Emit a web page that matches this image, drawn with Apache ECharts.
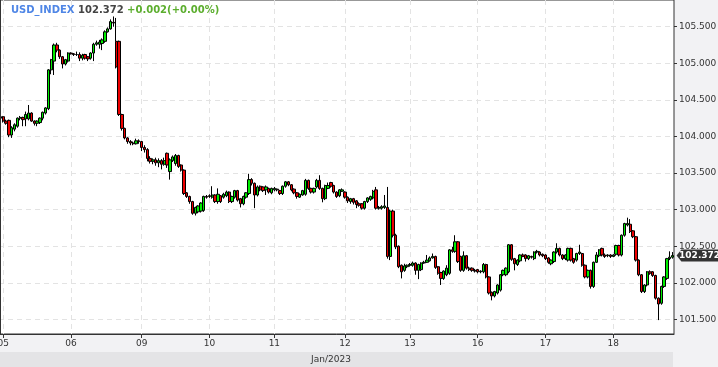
<!DOCTYPE html>
<html><head><meta charset="utf-8">
<script src="https://cdn.jsdelivr.net/npm/echarts@6/dist/echarts.min.js"></script>
<style>html,body{margin:0;padding:0;background:#fff}#c{width:718px;height:367px}</style>
</head><body><div id="c"></div>
<script>
const symbolName = 'USD_INDEX';
const lastPrice = 102.372;
const changeText = '+0.002(+0.00%)';
const monthLabel = 'Jan/2023';
const dayLabels = ['05','06','09','10','11','12','13','16','17','18'];
const dayStartIndex = [1,25,50,74,97,122,145,169,193,217];
const yTickValues = [101.5,102.0,102.5,103.0,103.5,104.0,104.5,105.0,105.5];
// [open, close, low, high]
const candles = [
[104.27,104.25,104.23,104.29],[104.27,104.21,104.19,104.28],[104.21,104.18,104.16,104.23],[104.22,104.02,103.99,104.23],
[104.02,104.12,103.98,104.14],[104.10,104.16,104.07,104.18],[104.14,104.25,104.12,104.26],[104.25,104.26,104.22,104.28],
[104.26,104.23,104.14,104.27],[104.24,104.30,104.14,104.34],[104.24,104.32,104.22,104.43],[104.32,104.21,104.20,104.33],
[104.21,104.18,104.15,104.22],[104.18,104.21,104.14,104.22],[104.19,104.25,104.17,104.26],[104.25,104.33,104.22,104.34],
[104.32,104.39,104.30,104.40],[104.38,104.91,104.36,104.92],[104.91,105.05,104.85,105.06],[105.03,105.25,104.84,105.27],
[105.25,105.18,105.15,105.28],[105.18,105.09,105.06,105.19],[105.09,104.99,104.93,105.10],[104.99,105.05,104.97,105.06],
[105.03,105.14,105.01,105.15],[105.14,105.13,105.12,105.15],[105.13,105.12,105.10,105.14],[105.12,105.12,105.10,105.16],
[105.12,105.07,105.03,105.15],[105.07,105.11,105.04,105.13],[105.12,105.07,105.05,105.13],[105.09,105.06,105.03,105.10],
[105.07,105.14,105.05,105.15],[105.14,105.26,105.03,105.28],[105.26,105.28,105.24,105.31],[105.26,105.29,105.20,105.32],
[105.27,105.32,105.18,105.34],[105.30,105.43,105.28,105.45],[105.43,105.47,105.42,105.49],[105.47,105.57,105.46,105.60],
[105.56,105.55,105.50,105.64],[105.30,104.95,104.93,105.62],[105.30,104.30,104.28,105.31],[104.30,104.11,104.08,104.31],
[104.11,103.98,103.96,104.12],[103.98,103.93,103.90,103.99],[103.93,103.91,103.88,103.95],[103.91,103.90,103.88,103.93],
[103.90,103.94,103.89,103.97],[103.94,103.93,103.90,103.96],[103.93,103.85,103.80,103.94],[103.85,103.82,103.78,103.88],
[103.82,103.70,103.66,103.84],[103.70,103.66,103.63,103.73],[103.66,103.68,103.62,103.70],[103.68,103.64,103.60,103.71],
[103.64,103.67,103.58,103.70],[103.67,103.62,103.55,103.69],[103.62,103.67,103.60,103.71],
[103.77,103.61,103.57,103.78],[103.52,103.68,103.41,103.70],[103.67,103.72,103.65,103.74],[103.63,103.74,103.60,103.76],
[103.74,103.59,103.57,103.75],[103.61,103.54,103.52,103.62],[103.54,103.22,103.20,103.55],[103.23,103.18,103.16,103.24],
[103.18,103.11,103.08,103.19],[103.11,102.95,102.93,103.12],[102.95,103.03,102.92,103.04],[102.97,103.05,102.95,103.06],
[102.98,103.09,102.96,103.10],[102.99,103.18,102.97,103.19],[103.18,103.17,103.15,103.20],[103.19,103.18,103.16,103.21],
[103.17,103.20,103.15,103.32],[103.20,103.11,103.09,103.21],[103.11,103.21,103.08,103.29],[103.19,103.11,103.09,103.20],
[103.17,103.21,103.15,103.23],[103.19,103.24,103.17,103.26],[103.24,103.11,103.09,103.25],[103.11,103.18,103.09,103.19],
[103.17,103.26,103.15,103.27],[103.26,103.13,103.11,103.27],[103.15,103.08,103.03,103.16],[103.08,103.18,103.06,103.19],
[103.17,103.23,103.15,103.24],[103.22,103.41,103.20,103.49],[103.41,103.36,103.33,103.43],[103.36,103.20,103.02,103.37],
[103.20,103.31,103.18,103.33],[103.32,103.27,103.25,103.33],[103.31,103.26,103.24,103.32],[103.27,103.31,103.20,103.33],
[103.29,103.24,103.22,103.30],[103.23,103.29,103.21,103.30],[103.27,103.29,103.25,103.31],[103.28,103.27,103.25,103.29],
[103.26,103.22,103.20,103.27],[103.22,103.32,103.20,103.33],[103.32,103.38,103.30,103.39],[103.38,103.34,103.32,103.39],
[103.34,103.27,103.25,103.35],[103.28,103.23,103.21,103.29],[103.23,103.18,103.15,103.24],[103.17,103.21,103.16,103.22],
[103.20,103.26,103.19,103.27],[103.21,103.40,103.19,103.42],[103.40,103.29,103.27,103.41],[103.29,103.24,103.22,103.30],
[103.24,103.29,103.22,103.30],[103.31,103.40,103.29,103.42],[103.40,103.29,103.27,103.47],[103.29,103.15,103.10,103.30],
[103.15,103.33,103.13,103.34],[103.29,103.33,103.28,103.37],[103.37,103.32,103.30,103.38],[103.33,103.24,103.22,103.34],
[103.24,103.18,103.16,103.25],
[103.19,103.27,103.17,103.28],[103.25,103.27,103.24,103.29],[103.24,103.17,103.15,103.25],[103.17,103.12,103.09,103.18],
[103.11,103.15,103.08,103.16],[103.15,103.10,103.07,103.16],[103.12,103.07,103.02,103.13],[103.08,103.06,103.04,103.10],
[103.08,103.02,103.00,103.09],[103.02,103.11,103.00,103.12],[103.11,103.16,103.09,103.17],[103.14,103.18,103.12,103.19],
[103.16,103.25,103.14,103.27],[103.27,103.02,103.00,103.31],[103.02,103.03,103.00,103.05],[103.02,103.04,103.00,103.06],
[103.03,103.05,103.01,103.20],[103.03,102.36,102.33,103.31],[102.36,102.98,102.31,103.00],[102.98,102.65,102.62,103.00],
[102.65,102.49,102.46,102.67],[102.50,102.22,102.20,102.51],[102.24,102.15,102.06,102.25],[102.17,102.23,102.15,102.26],
[102.22,102.24,102.20,102.25],[102.24,102.25,102.22,102.27],[102.24,102.27,102.22,102.29],[102.27,102.17,102.11,102.28],
[102.17,102.25,102.05,102.26],[102.18,102.27,102.16,102.28],[102.27,102.28,102.26,102.30],[102.28,102.31,102.27,102.38],
[102.30,102.34,102.29,102.36],[102.34,102.36,102.33,102.40],[102.36,102.21,102.19,102.37],[102.22,102.13,102.11,102.23],
[102.14,102.06,101.97,102.15],[102.06,102.16,102.04,102.17],[102.11,102.20,102.09,102.24],[102.13,102.45,102.11,102.46],
[102.45,102.43,102.41,102.49],[102.43,102.56,102.41,102.65],[102.56,102.29,102.27,102.57],[102.36,102.17,102.15,102.37],
[102.17,102.37,102.15,102.43],[102.37,102.20,102.18,102.38],[102.20,102.18,102.16,102.22],[102.20,102.17,102.15,102.21],
[102.17,102.16,102.14,102.19],[102.18,102.15,102.13,102.19],[102.15,102.16,102.13,102.17],[102.15,102.25,102.13,102.27],
[102.25,102.08,102.06,102.26],[102.08,101.86,101.84,102.09],[101.87,101.82,101.76,101.88],[101.82,101.88,101.80,101.89],
[101.86,101.97,101.84,101.98],[101.90,102.11,101.88,102.12],[102.11,102.17,102.09,102.18],[102.11,102.20,102.09,102.21],
[102.15,102.52,102.13,102.53],
[102.52,102.32,102.30,102.53],[102.33,102.26,102.17,102.34],[102.25,102.31,102.23,102.32],[102.30,102.38,102.28,102.39],
[102.38,102.36,102.35,102.40],[102.38,102.33,102.29,102.39],[102.33,102.37,102.31,102.38],[102.36,102.35,102.33,102.37],
[102.33,102.42,102.31,102.43],[102.42,102.43,102.40,102.45],[102.42,102.38,102.36,102.43],[102.39,102.37,102.35,102.40],
[102.38,102.33,102.31,102.39],[102.34,102.28,102.26,102.35],[102.26,102.31,102.24,102.32],[102.29,102.42,102.27,102.43],
[102.42,102.47,102.40,102.54],[102.47,102.38,102.36,102.48],[102.38,102.33,102.31,102.39],[102.33,102.38,102.31,102.39],
[102.31,102.47,102.29,102.48],[102.47,102.31,102.29,102.48],[102.33,102.28,102.26,102.34],[102.31,102.40,102.29,102.41],
[102.40,102.42,102.38,102.52],[102.40,102.24,102.22,102.41],[102.24,102.08,102.06,102.25],[102.08,102.17,102.06,102.18],
[102.17,101.95,101.92,102.18],[101.95,102.28,101.93,102.29],[102.28,102.38,102.27,102.42],[102.37,102.45,102.35,102.46],
[102.47,102.38,102.36,102.48],[102.38,102.36,102.34,102.40],[102.37,102.38,102.35,102.39],[102.38,102.36,102.34,102.39],
[102.36,102.38,102.35,102.39],[102.39,102.51,102.37,102.52],[102.51,102.38,102.36,102.52],[102.38,102.65,102.36,102.66],
[102.65,102.81,102.63,102.82],[102.79,102.81,102.77,102.89],[102.80,102.70,102.68,102.87],[102.71,102.63,102.61,102.72],
[102.63,102.31,102.29,102.64],[102.31,102.11,102.09,102.32],[102.11,101.88,101.86,102.12],[101.88,101.97,101.86,101.98],
[101.97,102.15,101.95,102.16],[102.15,102.13,102.11,102.17],[102.15,102.10,102.08,102.16],[102.10,101.79,101.77,102.11],
[101.79,101.71,101.49,101.80],[101.72,101.95,101.70,101.96],[101.95,102.08,101.93,102.09],[102.06,102.33,102.04,102.34],
[102.33,102.35,102.31,102.43],[102.35,102.372,102.33,102.42]
];
const categories = candles.map((_, i) => {
  let d = 0;
  for (let k = 0; k < dayStartIndex.length; k++) if (i >= dayStartIndex[k]) d = k;
  return i < dayStartIndex[0] ? '04' : dayLabels[d];
});
const isDayStart = (i) => dayStartIndex.indexOf(i) >= 0;
const FONT = 'DejaVu Sans';

const chart = echarts.init(document.getElementById('c'), null, {renderer: 'canvas'});
chart.setOption({
  animation: false,
  backgroundColor: '#f2f2f4',
  title: {
    left: 11, top: 5, padding: 0,
    text: '{a|' + symbolName + '} {b|' + lastPrice.toFixed(3) + '} {c|' + changeText + '}',
    textStyle: {
      fontSize: 10, fontFamily: FONT, fontWeight: 'bold',
      rich: {
        a: {color: '#4f86e6', fontSize: 10, fontFamily: FONT, fontWeight: 'bold'},
        b: {color: '#444', fontSize: 10, fontFamily: FONT, fontWeight: 'bold'},
        c: {color: '#5cae2e', fontSize: 10, fontFamily: FONT, fontWeight: 'bold'}
      }
    }
  },
  grid: {left: -1, right: 44, top: 0, bottom: 33, outerBoundsMode: 'none', containLabel: false,
    show: true, backgroundColor: '#fff', borderColor: '#333', borderWidth: 1},
  xAxis: {
    type: 'category', data: categories, boundaryGap: true,
    axisLine: {show: true, lineStyle: {color: '#333'}},
    axisTick: {show: true, alignWithLabel: true, interval: (i) => isDayStart(i), length: 4, lineStyle: {color: '#333'}},
    axisLabel: {interval: (i) => isDayStart(i), formatter: (v, i) => dayLabels[dayStartIndex.indexOf(i)],
      color: '#333', fontSize: 9, fontFamily: FONT, margin: 5, hideOverlap: false},
    splitLine: {show: true, alignWithLabel: true, interval: (i) => isDayStart(i), lineStyle: {color: '#e3e3e3', type: [5, 4]}}
  },
  yAxis: {
    type: 'value', position: 'right', min: 101.3, max: 105.865, splitNumber: 9,
    axisLine: {show: false},
    axisTick: {show: true, length: 3, customValues: yTickValues, lineStyle: {color: '#333'}},
    axisLabel: {customValues: yTickValues, formatter: (v) => v.toFixed(3), color: '#333', fontSize: 9, fontFamily: FONT, margin: 5},
    splitLine: {show: true, lineStyle: {color: '#e3e3e3', type: [5, 4]}}
  },
  series: [{
    type: 'candlestick',
    data: candles,
    barWidth: 2.8,
    itemStyle: {color: '#00ee00', color0: '#ee0000', borderColor: '#000', borderColor0: '#000', borderWidth: 1},
    markPoint: {
      symbol: 'path://M0,6 L5,0 L44,0 L44,12 L5,12 Z',
      symbolSize: [42, 12], symbolKeepAspect: false,
      symbolOffset: [25, 0],
      itemStyle: {color: '#333'},
      label: {show: true, position: 'inside', offset: [2, 0], formatter: () => lastPrice.toFixed(3), color: '#fff', fontSize: 9, fontFamily: FONT, fontWeight: 'bold'},
      data: [{coord: [candles.length - 1, lastPrice], value: lastPrice}]
    }
  }],
  graphic: [
    {type: 'line', shape: {x1: 0.5, y1: 0, x2: 0.5, y2: 334}, style: {stroke: '#333', lineWidth: 1}, z: 100},
    {type: 'rect', shape: {x: 0, y: 352, width: 673, height: 15}, style: {fill: '#e4e4e6'}, z: -1},
    {type: 'text', x: 331, y: 360, style: {text: monthLabel, fill: '#333', font: '9px "DejaVu Sans"', textAlign: 'center', textVerticalAlign: 'middle'}}
  ]
});
</script></body></html>
